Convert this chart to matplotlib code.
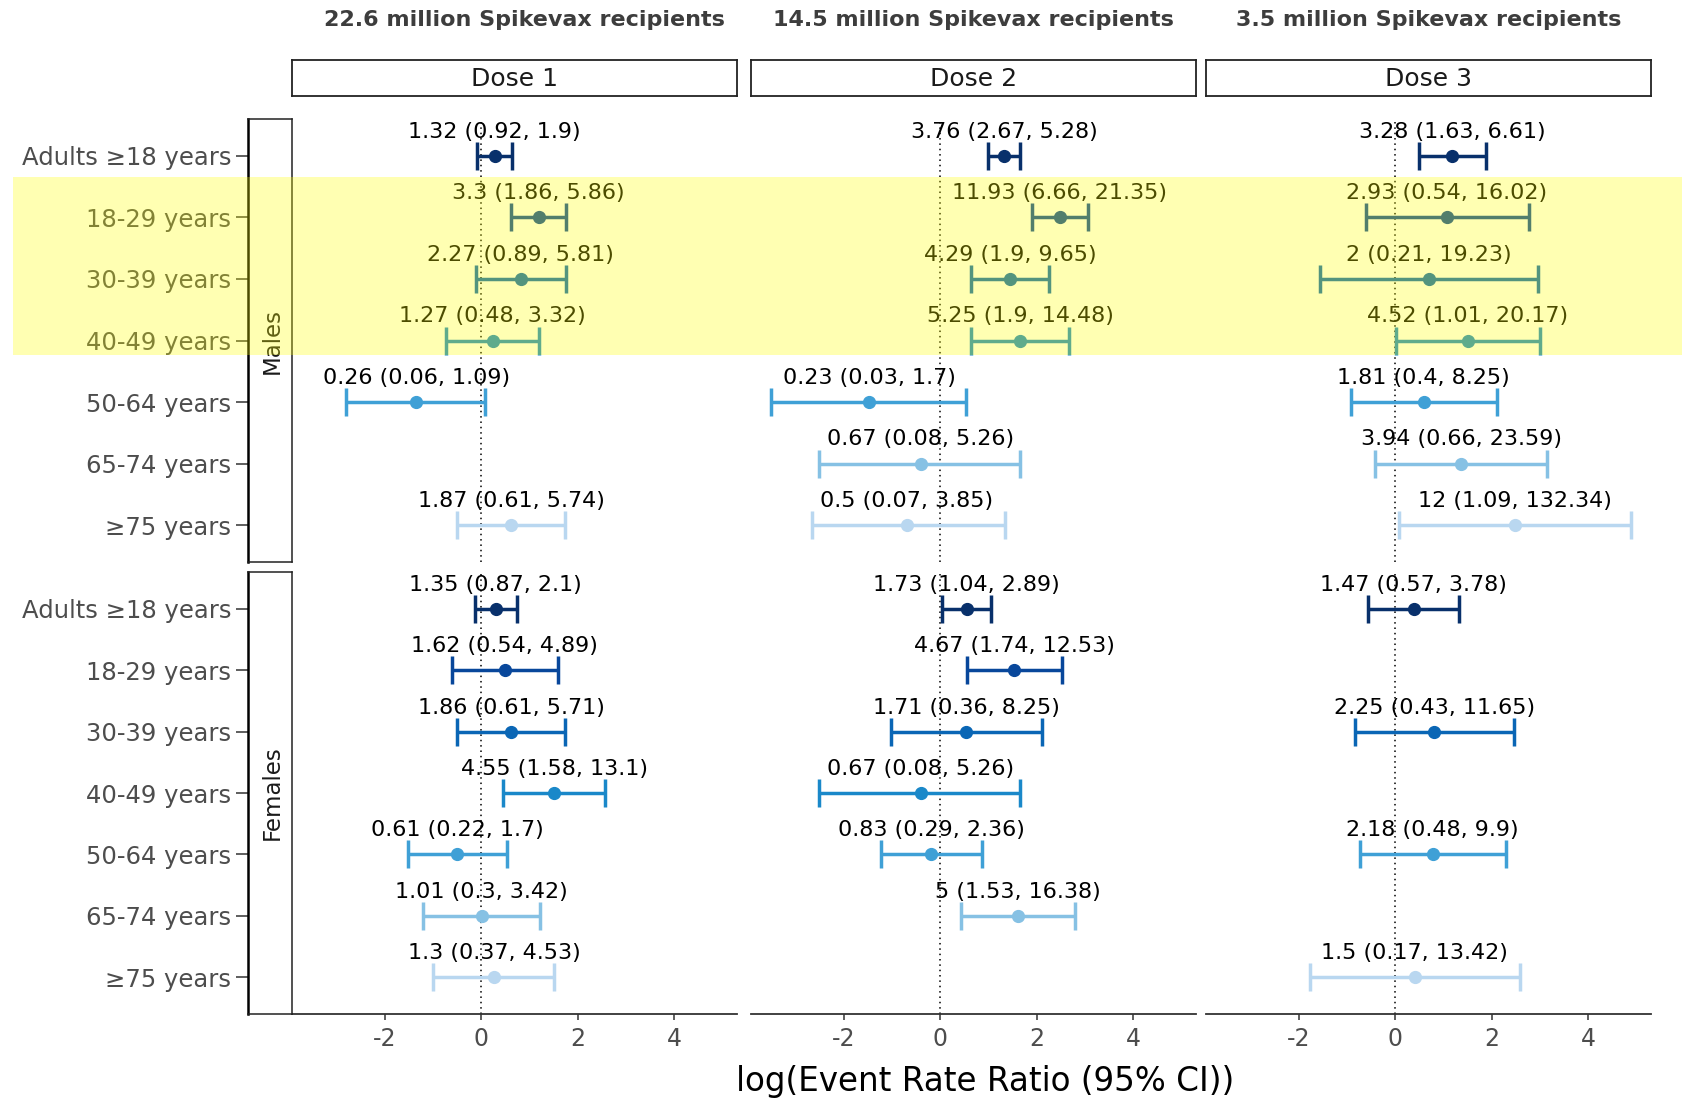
import numpy as np
import matplotlib
matplotlib.use("Agg")
import matplotlib.pyplot as plt
from matplotlib.patches import Rectangle
from matplotlib.transforms import blended_transform_factory

plt.rcParams['font.family'] = ['DejaVu Sans']

nan = np.nan

age_groups = ["Adults \u226518 years", "18-29 years", "30-39 years", "40-49 years",
              "50-64 years", "65-74 years", "\u226575 years"]
sexes = ["Males", "Females"]
doses = ["Dose 1", "Dose 2", "Dose 3"]
dose_titles = ["22.6 million Spikevax recipients",
               "14.5 million Spikevax recipients",
               "3.5 million Spikevax recipients"]
group_colors = ["#08306b", "#08479b", "#0a66b5", "#1a88c9", "#3fa0d6", "#86c1e4", "#b9d7f0"]

# Event rate ratios (point estimate, lower CI, upper CI)
d1_male_err = [1.32, 3.3, 2.27, 1.27, 0.26, nan, 1.87]
d1_male_lo = [0.92, 1.86, 0.89, 0.48, 0.06, nan, 0.61]
d1_male_hi = [1.9, 5.86, 5.81, 3.32, 1.09, nan, 5.74]
d1_female_err = [1.35, 1.62, 1.86, 4.55, 0.61, 1.01, 1.3]
d1_female_lo = [0.87, 0.54, 0.61, 1.58, 0.22, 0.3, 0.37]
d1_female_hi = [2.1, 4.89, 5.71, 13.1, 1.7, 3.42, 4.53]

d2_male_err = [3.76, 11.93, 4.29, 5.25, 0.23, 0.67, 0.5]
d2_male_lo = [2.67, 6.66, 1.9, 1.9, 0.03, 0.08, 0.07]
d2_male_hi = [5.28, 21.35, 9.65, 14.48, 1.7, 5.26, 3.85]
d2_female_err = [1.73, 4.67, 1.71, 0.67, 0.83, 5, nan]
d2_female_lo = [1.04, 1.74, 0.36, 0.08, 0.29, 1.53, nan]
d2_female_hi = [2.89, 12.53, 8.25, 5.26, 2.36, 16.38, nan]

d3_male_err = [3.28, 2.93, 2, 4.52, 1.81, 3.94, 12]
d3_male_lo = [1.63, 0.54, 0.21, 1.01, 0.4, 0.66, 1.09]
d3_male_hi = [6.61, 16.02, 19.23, 20.17, 8.25, 23.59, 132.34]
d3_female_err = [1.47, nan, 2.25, nan, 2.18, nan, 1.5]
d3_female_lo = [0.57, nan, 0.43, nan, 0.48, nan, 0.17]
d3_female_hi = [3.78, nan, 11.65, nan, 9.9, nan, 13.42]

x_ticks = [-2, 0, 2, 4]

data = {
    ("Dose 1", "Males"): (d1_male_err, d1_male_lo, d1_male_hi),
    ("Dose 1", "Females"): (d1_female_err, d1_female_lo, d1_female_hi),
    ("Dose 2", "Males"): (d2_male_err, d2_male_lo, d2_male_hi),
    ("Dose 2", "Females"): (d2_female_err, d2_female_lo, d2_female_hi),
    ("Dose 3", "Males"): (d3_male_err, d3_male_lo, d3_male_hi),
    ("Dose 3", "Females"): (d3_female_err, d3_female_lo, d3_female_hi),
}

W, H = 1683, 1100
fig = plt.figure(figsize=(W / 100, H / 100), dpi=100)


def fx(px):
    return px / W


def fy(py):
    return 1 - py / H


panel_left = [292, 751, 1206]
panel_w = 445
sex_top = [119, 572]
sex_bot = [562, 1014]
xlim = (-3.93, 5.31)
n = len(age_groups)
ylim = (n - 1 + 0.6, -0.6)
gray30 = "#4d4d4d"

axes = {}
for i, dose in enumerate(doses):
    for j, sex in enumerate(sexes):
        ax = fig.add_axes([fx(panel_left[i]), fy(sex_bot[j]), panel_w / W,
                           (sex_bot[j] - sex_top[j]) / H])
        axes[(dose, sex)] = ax
        ax.set_xlim(*xlim)
        ax.set_ylim(*ylim)
        for s in ["top", "right", "left"]:
            ax.spines[s].set_visible(False)
        ax.set_yticks([])
        ax.axvline(0, color="black", lw=1.1, ls=(0, (1, 2.5)), zorder=1)
        if sex == "Females":
            ax.spines["bottom"].set_color("#333333")
            ax.spines["bottom"].set_linewidth(1.3)
            ax.set_xticks(x_ticks)
            ax.set_xticklabels([str(t) for t in x_ticks])
            ax.tick_params(axis="x", colors="#333333", labelcolor=gray30,
                           labelsize=17, length=4, width=1.1, pad=5)
        else:
            ax.spines["bottom"].set_visible(False)
            ax.set_xticks([])
        err, lo, hi = data[(dose, sex)]
        for k in range(n):
            e = err[k]
            if np.isnan(e):
                continue
            xe, xl, xh = np.log(e), np.log(lo[k]), np.log(hi[k])
            c = group_colors[k]
            ax.errorbar([xe], [k], xerr=[[xe - xl], [xh - xe]], fmt="o",
                        color=c, ecolor=c, elinewidth=2.5, capsize=10,
                        capthick=2.5, markersize=8.5, zorder=3)
            ax.text(xe, k - 0.295, f"{e:g} ({lo[k]:g}, {hi[k]:g})",
                    ha="center", va="baseline", fontsize=16, color="black",
                    zorder=4)

# Dose strips and titles
for i, dose in enumerate(doses):
    sax = fig.add_axes([fx(panel_left[i]), fy(96), panel_w / W, 36 / H])
    sax.set_xticks([])
    sax.set_yticks([])
    for s in sax.spines.values():
        s.set_color("#222222")
        s.set_linewidth(1.3)
    sax.text(0.5, 0.48, dose, ha="center", va="center", fontsize=18,
             color="#1a1a1a", transform=sax.transAxes)
    cx = panel_left[i] + panel_w / 2 + (10 if i == 0 else 0)
    fig.text(fx(cx), fy(20), dose_titles[i], ha="center", va="center",
             fontsize=16, fontweight="bold", color="#3d3d3d")

# Sex strips with y axis
strip_axes = {}
for j, sex in enumerate(sexes):
    yax = fig.add_axes([fx(248), fy(sex_bot[j]), 44 / W,
                        (sex_bot[j] - sex_top[j]) / H])
    strip_axes[sex] = yax
    yax.set_ylim(*ylim)
    yax.set_xlim(0, 1)
    yax.set_xticks([])
    yax.set_yticks(range(n))
    yax.set_yticklabels(age_groups)
    yax.tick_params(axis="y", colors="#333333", labelcolor=gray30,
                    labelsize=17.5, length=9, width=1.1, pad=3)
    for s in ["top", "right", "bottom"]:
        yax.spines[s].set_color("#222222")
        yax.spines[s].set_linewidth(1.1)
    yax.spines["left"].set_color("black")
    yax.spines["left"].set_linewidth(1.8)
    yax.text(0.55, 0.5, sex, rotation=90, ha="center", va="center",
             fontsize=16.5, color="#1a1a1a", transform=yax.transAxes)

# x-axis title
fig.text(fx(985), fy(1082), "log(Event Rate Ratio (95% CI))", ha="center",
         va="center", fontsize=23.5, color="black")

# yellow highlight band over male 18-49 rows
trans = blended_transform_factory(fig.transFigure, axes[("Dose 1", "Males")].transData)
band = Rectangle((fx(13), 0.34), 1 - fx(13), 3.235 - 0.34, transform=trans,
                 facecolor="#ffff00", alpha=0.3, edgecolor="none", zorder=10)
fig.patches.append(band)

fig.savefig("out.png", dpi=100)
